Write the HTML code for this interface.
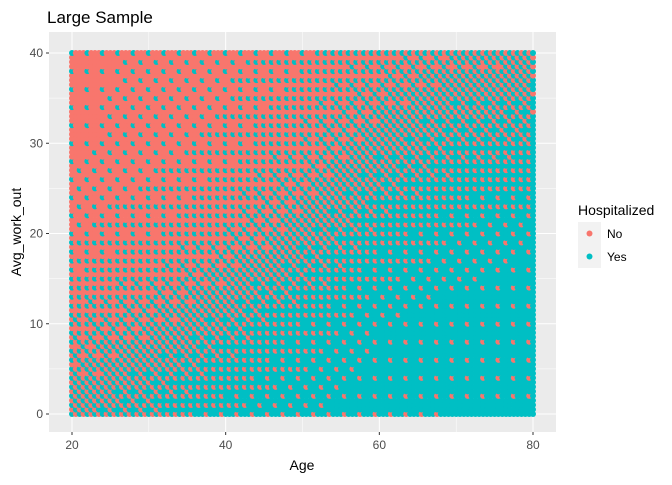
<!DOCTYPE html>
<html><head><meta charset="utf-8"><style>
body{margin:0;background:#fff;font-family:"Liberation Sans",Arial,sans-serif}
</style></head><body>
<svg id="chart" width="672" height="480" xmlns="http://www.w3.org/2000/svg" font-family="Liberation Sans, Arial, sans-serif">
<rect width="672" height="480" fill="#fff"/>
<text x="47" y="23" font-size="17" fill="#000">Large Sample</text>
<rect x="49" y="32" width="507" height="400" fill="#EBEBEB"/>
<g id="grid"></g>
<g id="points"></g>
<g id="axes"></g>
<text x="302" y="470" font-size="14" text-anchor="middle">Age</text>
<text transform="translate(21,232) rotate(-90)" font-size="14" text-anchor="middle">Avg_work_out</text>
<g>
<text x="578" y="215" font-size="14">Hospitalized</text>
<rect x="578" y="222" width="23" height="46" fill="#F2F2F2"/>
<g><circle cx="589.5" cy="233.5" r="3" fill="#F8766D"/><text x="607" y="238" font-size="12">No</text></g>
<g><circle cx="589.5" cy="256.5" r="3" fill="#00BFC4"/><text x="607" y="261" font-size="12">Yes</text></g>
</g>
</svg>
<script>
const ageAnchors=[20,30,40,50,60,70,80];
const workAnchors=[0,10,20,30,40];
// share of "Yes" per (workAnchor row, ageAnchor col)
const yesShare0 =[0.5,0.7,0.85,0.9,0.95,0.97,0.97];
const yesShare10=[0.3,0.4,0.6,0.8,0.9,0.95,0.95];
const yesShare20=[0.15,0.2,0.3,0.5,0.75,0.85,0.9];
const yesShare30=[0.08,0.12,0.18,0.3,0.5,0.65,0.7];
const yesShare40=[0.08,0.1,0.12,0.2,0.3,0.4,0.45];
const xTicks=[20,40,60,80];
const yTicks=[0,10,20,30,40];
const ns="http://www.w3.org/2000/svg";
const X=v=>72+(v-20)*(533-72)/60;
const Y=v=>414-v*(414-53)/40;
const rows=[yesShare0,yesShare10,yesShare20,yesShare30,yesShare40];
function mk(t,a,p){const e=document.createElementNS(ns,t);for(const k in a)e.setAttribute(k,a[k]);p.appendChild(e);return e;}
const grid=document.getElementById('grid'),axes=document.getElementById('axes'),pts=document.getElementById('points');
for(let i=0;i<xTicks.length;i++){
  if(i<xTicks.length-1){const m=(xTicks[i]+xTicks[i+1])/2;const g=mk('line',{x1:X(m),x2:X(m),y1:32,y2:432,stroke:'#fff','stroke-width':0.5},grid);}
  const l=mk('line',{x1:X(xTicks[i]),x2:X(xTicks[i]),y1:32,y2:432,stroke:'#fff','stroke-width':1},grid);
  
  mk('line',{x1:X(xTicks[i]),x2:X(xTicks[i]),y1:432,y2:435,stroke:'#333'},axes);
  const t=mk('text',{x:X(xTicks[i]),y:449,'font-size':12,fill:'#4D4D4D','text-anchor':'middle'},axes);t.textContent=xTicks[i];
  
}
for(let i=0;i<yTicks.length;i++){
  if(i<yTicks.length-1){const m=(yTicks[i]+yTicks[i+1])/2;const g=mk('line',{x1:49,x2:556,y1:Y(m),y2:Y(m),stroke:'#fff','stroke-width':0.5},grid);}
  const l=mk('line',{x1:49,x2:556,y1:Y(yTicks[i]),y2:Y(yTicks[i]),stroke:'#fff','stroke-width':1},grid);
  
  mk('line',{x1:46,x2:49,y1:Y(yTicks[i]),y2:Y(yTicks[i]),stroke:'#333'},axes);
  const t=mk('text',{x:43,y:Y(yTicks[i])+4,'font-size':12,fill:'#4D4D4D','text-anchor':'end'},axes);t.textContent=yTicks[i];
  
}
function share(a,w){
  let ci=Math.min(ageAnchors.length-2,Math.floor((a-20)/10)),ri=Math.min(workAnchors.length-2,Math.floor(w/10));
  const fa=(a-ageAnchors[ci])/10,fw=(w-workAnchors[ri])/10;
  const r0=rows[ri][ci]*(1-fa)+rows[ri][ci+1]*fa,r1=rows[ri+1][ci]*(1-fa)+rows[ri+1][ci+1]*fa;
  return r0*(1-fw)+r1*fw;
}
const bayer=[[0,8,2,10],[12,4,14,6],[3,11,1,9],[15,7,13,5]];
let i=0;
for(let a=20;a<=80.001;a+=0.5){let j=0;
  for(let w=0;w<=40.001;w+=0.5){
    const s=share(a,w);const th=(bayer[i%4][j%4]+0.5)/16;
    const yes=s>th;
    const c=mk('circle',{cx:X(a).toFixed(1),cy:Y(w).toFixed(1),r:3,fill:yes?'#00BFC4':'#F8766D'},pts);
    
    
    j++;}
  i++;}
</script>
</body></html>
